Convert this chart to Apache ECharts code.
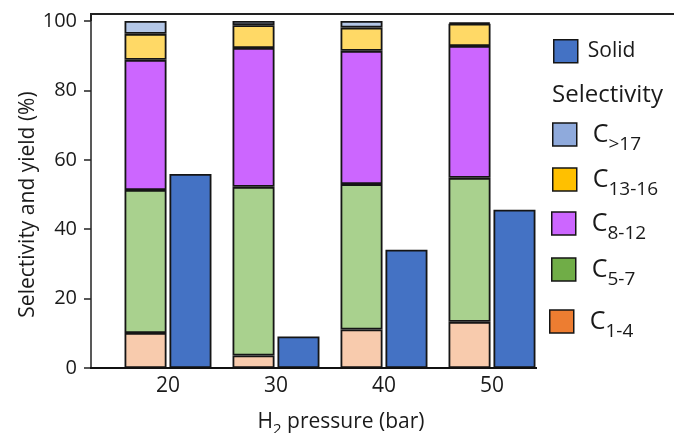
<!DOCTYPE html>
<html>
<head>
<meta charset="utf-8">
<script src="https://cdn.jsdelivr.net/npm/echarts@6/dist/echarts.min.js"></script>
<style>html,body{margin:0;padding:0;background:#fff}#c{width:674px;height:433px}</style>
</head>
<body>
<div id="c"></div>
<script>
// ---- data ----
var categories = ['20', '30', '40', '50'];    // H2 pressure (bar)
var c1_4   = [10.1, 3.6, 11.1, 13.3];
var c5_7   = [41.2, 48.6, 41.9, 41.5];
var c8_12  = [37.5, 40.0, 38.4, 38.0];
var c13_16 = [7.5, 6.6, 6.7, 6.4];
var cGt17  = [3.7, 1.2, 1.9, 0.4];
var solid  = [55.9, 9.1, 34.1, 45.6];

var FONT = 'Open Sans';
var TXT = '#1a1a1a';
var EDGE = '#151515';

var stackSeries = [
  {name: 'C1-4',   vals: c1_4,   fill: '#f8cbad', legendFill: '#ed7d31'},
  {name: 'C5-7',   vals: c5_7,   fill: '#a9d18e', legendFill: '#70ad47'},
  {name: 'C8-12',  vals: c8_12,  fill: '#cc66ff', legendFill: '#cc66ff'},
  {name: 'C13-16', vals: c13_16, fill: '#ffd966', legendFill: '#ffc000'},
  {name: 'C>17',   vals: cGt17,  fill: '#b4c7e7', legendFill: '#8faadc'}
];

var series = stackSeries.map(function (s) {
  return {
    name: s.name, type: 'bar', stack: 'sel', barWidth: 42, barGap: '7%',
    itemStyle: {color: s.fill, borderColor: EDGE, borderWidth: 1.8},
    data: s.vals
  };
});
series.push({
  name: 'Solid', type: 'bar', barWidth: 42, barGap: '7%',
  itemStyle: {color: '#4472c4', borderColor: EDGE, borderWidth: 1.8},
  data: solid
});

var legendFill = {'Solid': '#4472c4'};
stackSeries.forEach(function (s) { legendFill[s.name] = s.legendFill; });

var richLegend = {
  t: {fontFamily: FONT, fontSize: 21, color: TXT, padding: [0, 0, 0, 5]},
  c: {fontFamily: FONT, fontSize: 25, color: TXT, padding: [0, 0, 0, 11]},
  s: {fontFamily: FONT, fontSize: 19, color: TXT, padding: [20, 0, 0, 0]}
};

var legendPos = [
  {name: 'Solid',  left: 553, top: 39},
  {name: 'C>17',   left: 552, top: 122},
  {name: 'C13-16', left: 552, top: 167},
  {name: 'C8-12',  left: 551, top: 211},
  {name: 'C5-7',   left: 551, top: 257},
  {name: 'C1-4',   left: 549, top: 309}
];

var legends = legendPos.map(function (p) {
  return {
    left: p.left, top: p.top, padding: 0, orient: 'vertical',
    itemWidth: 24, itemHeight: 23, icon: 'rect', selectedMode: false,
    data: [{name: p.name, itemStyle: {color: legendFill[p.name], borderColor: EDGE, borderWidth: 1.5}}],
    formatter: function (n) {
      if (n === 'Solid') return '{t|Solid}';
      return '{c|C}{s|' + n.slice(1) + '}';
    },
    textStyle: {rich: richLegend}
  };
});

var chart = echarts.init(document.getElementById('c'), null, {renderer: 'canvas'});
chart.setOption({
  backgroundColor: '#fff',
  animation: false,
  grid: {left: 114, top: 21, right: 128, bottom: 65, containLabel: false, outerBoundsMode: 'none'},
  legend: legends,
  xAxis: {
    type: 'category', data: categories,
    axisLine: {show: false},
    axisTick: {show: false},
    splitLine: {show: false},
    axisLabel: {fontFamily: FONT, fontSize: 21, color: TXT, margin: 8},
    name: '{a|H}{b|2}{a| pressure (bar)}',
    nameLocation: 'middle', nameGap: 40, nameMoveOverlap: false,
    nameTextStyle: {
      padding: [0, 0, 0, 22],
      rich: {
        a: {fontFamily: FONT, fontSize: 21, color: TXT},
        b: {fontFamily: FONT, fontSize: 15, color: TXT, padding: [14, 0, 0, 0]}
      }
    }
  },
  yAxis: {
    type: 'value', min: 0, max: 100, interval: 20, offset: 23,
    axisLine: {show: true, lineStyle: {color: '#222', width: 1.5}},
    axisTick: {show: true, length: 7, lineStyle: {color: '#222', width: 1.5}},
    splitLine: {show: false},
    axisLabel: {fontFamily: FONT, fontSize: 20, color: TXT, margin: 14},
    name: 'Selectivity and yield (%)',
    nameLocation: 'middle', nameGap: 52, nameMoveOverlap: false,
    nameTextStyle: {fontFamily: FONT, fontSize: 21, color: TXT, padding: [0, 20, 0, 0]}
  },
  graphic: [
    {type: 'polyline', shape: {points: [[91, 21], [91, 14], [674, 14]]},
     style: {stroke: '#222', lineWidth: 2, fill: null}, silent: true},
    {type: 'line', shape: {x1: 90, y1: 368, x2: 537, y2: 368},
     style: {stroke: '#111', lineWidth: 2}, silent: true, z: 10},
    {type: 'text', style: {x: 552, y: 95, text: 'Selectivity', fontFamily: FONT, fontSize: 24,
      fill: TXT, verticalAlign: 'middle'}}
  ],
  series: series
});
</script>
</body>
</html>
